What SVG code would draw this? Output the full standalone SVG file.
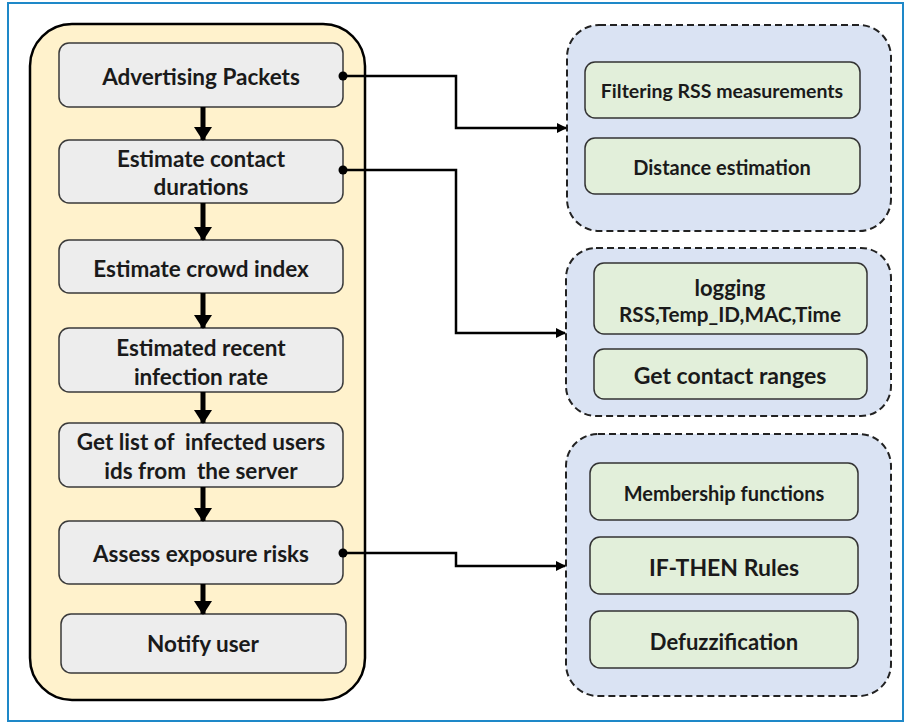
<svg xmlns="http://www.w3.org/2000/svg" width="906" height="723" viewBox="0 0 906 723">
<style>
text{font-family:Lato,"Open Sans","Liberation Sans",sans-serif;font-weight:bold;fill:#1a1a1a;text-anchor:middle;dominant-baseline:central}
.st{font-size:22.5px}
.step{fill:#EDEDED;stroke:#3a3a3a;stroke-width:1.5}
.sub{fill:#E2EFDA;stroke:#333;stroke-width:1.5}
.grp{fill:#DAE3F3;stroke:#222;stroke-width:2;stroke-dasharray:7 4}
.flow{stroke:#000;stroke-width:5;fill:none}
.conn{stroke:#000;stroke-width:2.5;fill:none}
</style>
<defs>
<marker id="big" markerUnits="userSpaceOnUse" viewBox="0 0 14 18" refX="13" refY="9" markerWidth="14" markerHeight="18" orient="auto"><path d="M0,0 L14,9 L0,18 Z" fill="#000"/></marker>
<marker id="small" markerUnits="userSpaceOnUse" viewBox="0 0 10 10" refX="9" refY="5" markerWidth="10" markerHeight="10" orient="auto"><path d="M0,0 L10,5 L0,10 Z" fill="#000"/></marker>
</defs>
<rect x="8" y="3" width="895" height="718" fill="#fff" stroke="#1E88C8" stroke-width="2"/>
<g id="process">
<rect x="30" y="24" width="335" height="676" rx="42" fill="#FFF2CC" stroke="#000" stroke-width="2.5"/>
</g>
<g id="n1"><rect class="step" x="59" y="43" width="284" height="64" rx="10"/><text class="st" x="201" y="76">Advertising Packets</text></g>
<g id="n2"><rect class="step" x="59" y="140" width="284" height="63" rx="10"/><text class="st" x="201" y="158">Estimate contact</text><text class="st" x="201" y="186">durations</text></g>
<g id="n3"><rect class="step" x="59" y="240" width="284" height="53" rx="10"/><text class="st" x="201" y="268">Estimate crowd index</text></g>
<g id="n4"><rect class="step" x="59" y="328" width="284" height="64" rx="10"/><text class="st" x="201" y="347">Estimated recent</text><text class="st" x="201" y="376">infection rate</text></g>
<g id="n5"><rect class="step" x="59" y="423" width="284" height="64" rx="10"/><text class="st" x="201" y="441" xml:space="preserve">Get list of  infected users</text><text class="st" x="201" y="470" xml:space="preserve">ids from  the server</text></g>
<g id="n6"><rect class="step" x="59" y="521" width="284" height="63" rx="10"/><text class="st" x="201" y="553">Assess exposure risks</text></g>
<g id="n7"><rect class="step" x="61" y="614" width="285" height="59" rx="10"/><text class="st" x="203" y="643">Notify user</text></g>

<g id="g1"><rect class="grp" x="567" y="25" width="324" height="206" rx="32"/></g>
<g id="s1"><rect class="sub" x="585" y="62" width="275" height="56" rx="10"/><text x="722" y="90" font-size="19.5">Filtering RSS measurements</text></g>
<g id="s2"><rect class="sub" x="585" y="138" width="275" height="56" rx="10"/><text x="722" y="167" font-size="20">Distance estimation</text></g>

<g id="g2"><rect class="grp" x="566" y="248" width="325" height="168" rx="30"/></g>
<g id="s3"><rect class="sub" x="594" y="263" width="273" height="71" rx="10"/><text x="730" y="287" font-size="22">logging</text><text x="730" y="314" font-size="20.7">RSS,Temp_ID,MAC,Time</text></g>
<g id="s4"><rect class="sub" x="594" y="349" width="273" height="50" rx="10"/><text x="730" y="375" font-size="23">Get contact ranges</text></g>

<g id="g3"><rect class="grp" x="566" y="434" width="325" height="262" rx="32"/></g>
<g id="s5"><rect class="sub" x="590" y="463" width="268" height="57" rx="10"/><text x="724" y="493" font-size="20">Membership functions</text></g>
<g id="s6"><rect class="sub" x="590" y="537" width="268" height="57" rx="10"/><text x="724" y="567" font-size="23">IF-THEN Rules</text></g>
<g id="s7"><rect class="sub" x="590" y="611" width="268" height="57" rx="10"/><text x="724" y="641" font-size="22">Defuzzification</text></g>

<g id="connectors">
<line class="flow" x1="203" y1="107" x2="203" y2="140" marker-end="url(#big)"/>
<line class="flow" x1="203" y1="203" x2="203" y2="240" marker-end="url(#big)"/>
<line class="flow" x1="203" y1="293" x2="203" y2="328" marker-end="url(#big)"/>
<line class="flow" x1="203" y1="392" x2="203" y2="423" marker-end="url(#big)"/>
<line class="flow" x1="203" y1="487" x2="203" y2="521" marker-end="url(#big)"/>
<line class="flow" x1="203" y1="584" x2="203" y2="614" marker-end="url(#big)"/>
<circle cx="343" cy="76" r="4.5" fill="#000"/>
<path class="conn" d="M343,76 H456 V128 H566" marker-end="url(#small)"/>
<circle cx="343" cy="170" r="4.5" fill="#000"/>
<path class="conn" d="M343,170 H456 V333 H565" marker-end="url(#small)"/>
<circle cx="343" cy="553" r="4.5" fill="#000"/>
<path class="conn" d="M343,553 H456 V566 H565" marker-end="url(#small)"/>
</g>
</svg>
